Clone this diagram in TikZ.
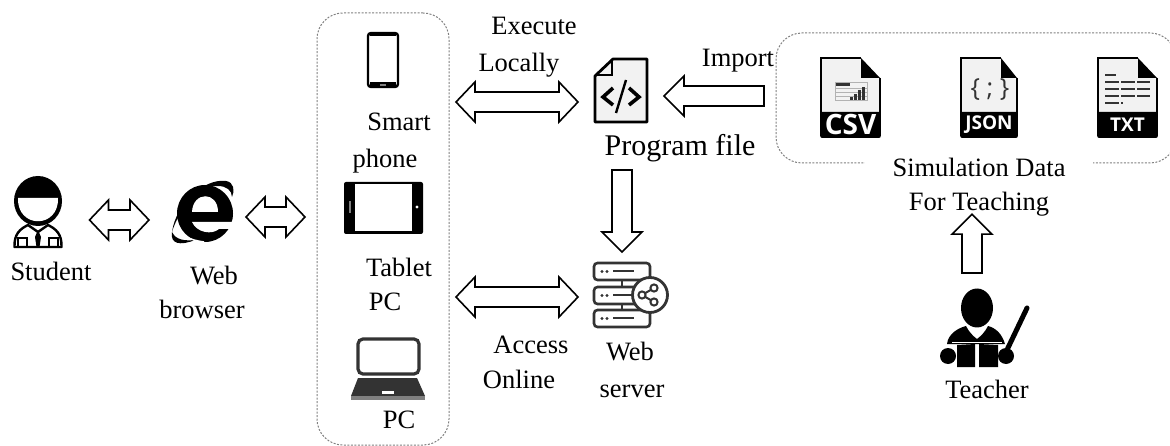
\documentclass[tikz,border=0pt]{standalone}
\usepackage{fontspec}
\setmainfont{Liberation Serif}
\newfontfamily\tagfont{Open Sans}
\usetikzlibrary{calc,decorations.pathreplacing}
\definecolor{filegray}{gray}{0.95}
\definecolor{darkicon}{gray}{0.2}
\tikzset{
	lbl/.style={font=\fontsize{26.5}{34}\selectfont,inner sep=0,text height=.7em,text depth=.2em},
	iconbox/.style={inner sep=0,outer sep=0,minimum width=#1},
	cloud/.style={draw=gray,line width=1,dash pattern=on 2pt off 1.5pt,rounded corners=26,inner sep=0,outer sep=0},
	filetag/.style={text=white,inner sep=0},
	arrowline/.style={line width=1.6,fill=white,line join=miter},
	dblarrow/.style={decorate,decoration={show path construction,lineto code={
		\coordinate (arrowA) at (\tikzinputsegmentfirst);
		\coordinate (arrowB) at (\tikzinputsegmentlast);
		\coordinate (headA) at ($(arrowA)!19pt!(arrowB)$);
		\coordinate (headB) at ($(arrowB)!19pt!(arrowA)$);
		\draw[arrowline] (arrowA) -- ($(headA)!20pt!90:(arrowB)$) -- ($(headA)!10pt!90:(arrowB)$)
			-- ($(headB)!10pt!-90:(arrowA)$) -- ($(headB)!20pt!-90:(arrowA)$) -- (arrowB)
			-- ($(headB)!20pt!90:(arrowA)$) -- ($(headB)!10pt!90:(arrowA)$)
			-- ($(headA)!10pt!-90:(arrowB)$) -- ($(headA)!20pt!-90:(arrowB)$) -- cycle;
	}}},
	onearrow/.style={decorate,decoration={show path construction,lineto code={
		\coordinate (arrowA) at (\tikzinputsegmentfirst);
		\coordinate (arrowB) at (\tikzinputsegmentlast);
		\coordinate (headB) at ($(arrowB)!20pt!(arrowA)$);
		\draw[arrowline] ($(arrowA)!10pt!90:(arrowB)$) -- ($(headB)!10pt!-90:(arrowA)$)
			-- ($(headB)!20pt!-90:(arrowA)$) -- (arrowB) -- ($(headB)!20pt!90:(arrowA)$)
			-- ($(headB)!10pt!90:(arrowA)$) -- ($(arrowA)!10pt!-90:(arrowB)$) -- cycle;
	}}}
}
\begin{document}
\begin{tikzpicture}[x=1pt,y=-1pt]
	\useasboundingbox (0,0) rectangle (1170,446);
	% groups
	\node[cloud,minimum width=132,minimum height=432] (devices) at (383,229) {};
	\node[cloud,minimum width=400,minimum height=130] (datafiles) at (976,98) {};
	\node[lbl,fill=white,align=center,text height=,text depth=,inner xsep=28,inner ysep=0,minimum height=60] (simdata) at (979,187) {Simulation Data\\For Teaching};
	% icon places
	\node[iconbox=49,minimum height=71] (student) at (38,212) {};
	\node[iconbox=62,minimum height=60] (browser) at (203,213) {};
	\node[iconbox=54,minimum height=65] (program) at (621,90.5) {};
	\node[iconbox=75,minimum height=64] (server) at (630.5,295) {};
	\node[iconbox=80,minimum height=80] (teacher) at (987,328) {};
	% labels
	\foreach \n/\x/\y/\t in {lblstudent/51/278/Student,lblweb/214/282/Web,lblbrowser/202/316/browser,
		lblsmart/399/128/Smart,lblphone/385/165/phone,lbltablet/399/274/Tablet,lblpc/385/308/PC,lbllaptop/399/426/PC,
		lblexecute/534/32/Execute,lbllocally/519/69/Locally,lblimport/738/64/Import,
		lblaccess/531/351/Access,lblonline/519/386/Online,lblwebs/630/358/Web,lblserver/632/395/server,lblteacher/987/396/Teacher}
	\node[lbl] (\n) at (\x,\y) {\t};
	\node[lbl,font=\fontsize{30}{34}\selectfont] (lblprogram) at (680,153) {Program file};
	% arrows
	\draw[dblarrow,gray] ([shift={(27,8)}]student.east) -- ([shift={(-23,7)}]browser.west);
	\draw[dblarrow,black] ([shift={(12,4)}]browser.east) -- ([shift={(-12,-12)}]devices.west);
	\draw[dblarrow,darkicon] ([shift={(7,-127)}]devices.east) -- ([shift={(-16,11.5)}]program.west);
	\draw[dblarrow,darkicon] ([shift={(7,68)}]devices.east) -- ([shift={(-15,2)}]server.west);
	\draw[onearrow,darkicon] ([shift={(-12,-2)}]datafiles.west) -- ([shift={(16,5.5)}]program.east);
	\draw[onearrow,darkicon] ([shift={(1,47)}]program.south) -- ([shift={(-8.5,-11)}]server.north);
	\draw[onearrow,gray] ([shift={(-15,-15)}]teacher.north) -- ([shift={(-7,-3)}]simdata.south);
	% student
	\fill (38,201) ellipse (24 and 25);
	\fill[white] (18,198) -- (58,198) .. controls (59,229) and (17,229) .. (18,198) -- cycle;
	\draw[line width=2.4,line join=round] (14.5,247) .. controls (14,234) and (20,229) .. (28,225) -- (38,232) -- (48,225) .. controls (56,229) and (62,234) .. (61.5,247) -- cycle;
	\draw[line width=2.4] (18,247) -- (18,238) -- (27,238) -- (27,247);
	\draw[line width=2.4] (49,247) -- (49,238) -- (58,238) -- (58,247);
	\fill (38,230) -- (41,237) -- (39.5,247) -- (36.5,247) -- (35,237) -- cycle;
	% browser
	\fill (205,213.5) ellipse (28 and 28.5);
	\fill[white] (192,212) .. controls (193,191) and (218,191) .. (218,212) -- cycle;
	\fill[white] (192,222) -- (236,222) -- (236,229) -- (219,229) .. controls (212,235) and (197,233) .. (192,222) -- cycle;
	\fill[white] (236,222) rectangle (240,250);
	\fill (172,232) .. controls (176,203) and (205,178) .. (226,181) .. controls (234,182) and (235,191) .. (232,197) .. controls (232,190) and (226,186) .. (218,186) .. controls (196,186) and (178,212) .. (172,232) -- cycle;
	\fill (172,232) .. controls (170,244) and (180,246) .. (195,240) .. controls (184,241) and (176,240) .. (172,232) -- cycle;
	\draw[white,line width=1.5] (177,226) .. controls (180,236) and (190,240) .. (204,242);
	% phone
	\draw[line width=2.4,rounded corners=3] (368,33) rectangle (398,87);
	\fill (370,33) rectangle (396,36);
	\fill (370,82) rectangle (396,87);
	\fill[gray] (380,84) rectangle (386,86);
	% tablet
	\fill[rounded corners=2] (344,182) rectangle (423,234);
	\fill[white] (355,184) rectangle (412,231);
	\fill[gray] (348.5,201) rectangle (351,213);
	\fill[white] (417,207) circle (1.6);
	% laptop
	\draw[darkicon,line width=3.2,rounded corners=5] (358,339) rectangle (419,374);
	\fill[darkicon] (358,378) -- (417,378) -- (425,396) -- (351,396) -- cycle;
	\fill[gray] (351,396) rectangle (425,400);
	\fill[white] (382,391) rectangle (394,394);
	% program file
	\fill[filegray] (613,58) -- (647,58) -- (647,122) -- (595,122) -- (595,75) -- cycle;
	\draw[line width=2.8,line join=round] (613,59) -- (647,59) -- (647,122) -- (595,122) -- (595,76) -- cycle;
	\draw[line width=1.2] (597,75) -- (612,75) -- (612,60);
	\draw[line width=3.6] (613,88) -- (603,97) -- (613,105);
	\draw[line width=3.6] (629,88) -- (639,97) -- (629,105);
	\draw[line width=2.4] (626,80) -- (616,113);
	% data files
	\foreach \n/\x/\w/\s/\t in {csv/821/59/28/CSV,json/961/56/19/JSON,txt/1098/59/19/TXT}{
		\begin{scope}[shift={(\x,58)}]
			\fill[filegray] (0,0) -- (40,0) -- (\w,20) -- (\w,80) -- (0,80) -- cycle;
			\draw[line width=1.6] (0,56) -- (0,0) -- (40,0);
			\draw[line width=1.6] (\w,20) -- (\w,56);
			\fill (40,0) -- (\w,20) -- (40,20) -- cycle;
			\fill[rounded corners=2] (-.8,54) rectangle (\w+.8,80);
			\node[filetag,font=\tagfont\bfseries\fontsize{\s}{\s}\selectfont] (\n) at (\w/2,67) {\t};
		\end{scope}
	}
	% csv chart
	\fill[darkicon] (835,82) rectangle (850,86);
	\foreach \y in {88,92,96,100}
	\draw[gray!60,line width=.6] (835,\y) -- (867,\y);
	\draw[gray!60,line width=.6] (835,82) rectangle (867,100);
	\foreach \x/\h in {850/3,854/6,858/10,862/13}
	\fill[darkicon] (\x,100) rectangle (\x+2.5,100-\h);
	% json symbols
	\node[inner sep=0,text=darkicon,font=\tagfont\fontsize{25}{25}\selectfont] (jsonsym) at (990,90) {\{ ; \}};
	% txt lines
	\foreach \a/\b/\y in {1105/1116/75,1105/1150/82,1105/1150/89,1105/1150/96,1105/1123/103}
	\draw[line width=2.8,darkicon,dash pattern=on 14pt off 2pt] (\a,\y) -- (\b,\y);
	% server
	\foreach \y in {263,287,310}{
		\draw[darkicon,line width=2.6,rounded corners=3.5] (594,\y) rectangle (650,\y+17);
		\fill[darkicon] (602,\y+8.5) circle (1.6);
		\fill[darkicon] (607,\y+8.5) circle (1.6);
		\draw[darkicon,line width=2] (613,\y+8.5) -- (634,\y+8.5);
	}
	\draw[darkicon,line width=2.6] (622,281) -- (622,287);
	\draw[darkicon,line width=2.6] (622,304) -- (622,310);
	\draw[darkicon,line width=2.8,fill=white] (650,295) circle (17.5);
	\draw[darkicon,line width=2] (654,288) -- (642,295) -- (654,302);
	\foreach \x/\y in {642/295,654/288,654/302}
	\draw[darkicon,line width=2,fill=white] (\x,\y) circle (3.6);
	% teacher
	\fill (977,308) ellipse (16 and 19.5);
	\fill (947,344) .. controls (948,334) and (958,328) .. (966,326) .. controls (969,332) and (973,336) .. (977,339) .. controls (981,336) and (985,332) .. (988,326) .. controls (996,328) and (1002,334) .. (1005,344) -- cycle;
	\draw[white,line width=1.4] (952,342.5) -- (1002,342.5);
	\fill (957,345) -- (975,344) -- (975,367) -- (957,367) -- cycle;
	\fill (979,344) -- (998,345) -- (998,367) -- (979,367) -- cycle;
	\fill (948,356) circle (8);
	\fill (1006,356) circle (8);
	\draw[line width=5,line cap=round] (1006,352) -- (1027,308);
\end{tikzpicture}
\end{document}
